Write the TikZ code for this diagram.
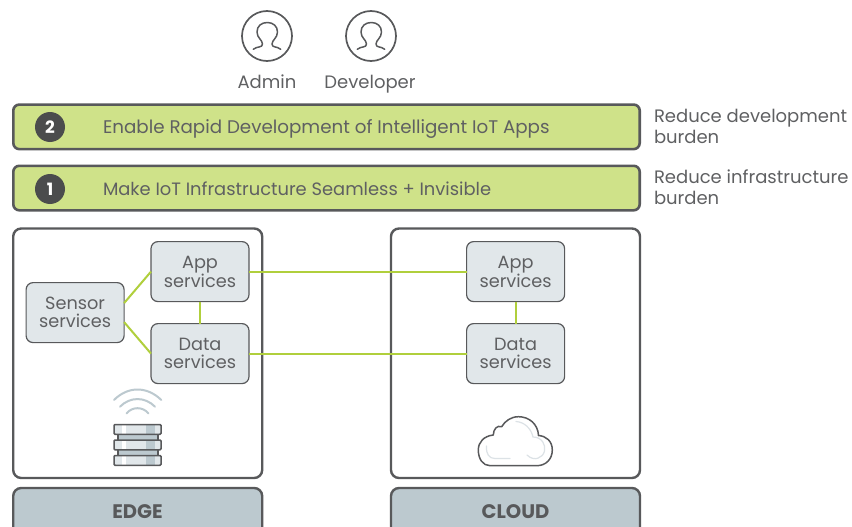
\documentclass[tikz,border=0pt]{standalone}
\usepackage{fontspec}
\setmainfont{Poppins}
\usetikzlibrary{calc}
\definecolor{dk}{HTML}{58595B}
\definecolor{txt}{HTML}{5F6062}
\definecolor{grn}{HTML}{CFE289}
\definecolor{lnk}{HTML}{B0CF3C}
\definecolor{svc}{HTML}{E1E7EA}
\definecolor{lab}{HTML}{BCC9CF}
\tikzset{
 every node/.style={outer sep=0pt},
 bar/.style={draw=dk,line width=2.6pt,fill=grn,rounded corners=6pt,minimum width=626.4pt,minimum height=44.5pt,inner sep=0pt,anchor=north west},
 zone/.style={draw=dk,line width=2.4pt,fill=white,rounded corners=8pt,minimum width=249pt,minimum height=249.5pt,inner sep=0pt,anchor=north west},
 tag/.style={draw=dk,line width=2.4pt,fill=lab,rounded corners=8pt,minimum width=249pt,minimum height=60pt,inner sep=0pt,anchor=north west},
 svcbox/.style={draw=dk,line width=1.2pt,fill=svc,rounded corners=7pt,minimum width=98pt,minimum height=60pt,inner sep=0pt,anchor=north west,text=txt,align=center,font=\fontsize{17.7}{18}\selectfont},
 linkline/.style={draw=lnk,line width=2pt},
 badge/.style={circle,fill=dk!85!black,text=white,minimum size=30pt,inner sep=0pt,font=\fontsize{17}{18}\selectfont\bfseries},
 bartext/.style={text=txt,anchor=base west,inner sep=0pt},
 side/.style={text=txt,anchor=north west,align=left,inner sep=0pt,font=\fontsize{18}{21}\selectfont},
 usertext/.style={text=txt,anchor=base,inner sep=0pt,font=\fontsize{18}{20}\selectfont},
 taglabel/.style={text=dk,anchor=base,inner sep=0pt,font=\fontsize{19.6}{20}\selectfont\bfseries},
 usercircle/.style={circle,draw=dk,line width=1.7pt,minimum size=50pt,inner sep=0pt},
 icon/.style={draw=dk,line width=1.5pt,line cap=round,line join=round},
 wifi/.style={draw=lab,line width=2pt,line cap=round},
}
\begin{document}
\begin{tikzpicture}[x=1pt,y=-1pt]
\useasboundingbox (0,0) rectangle (852,527);
\clip (0,0) rectangle (852,527);
% users
\node[usercircle] (admin) at (267,36) {};
\node[usercircle] (dev) at (371,36) {};
\node[usertext] (adminl) at (267,88.6) {Admin};
\node[usertext] (devl) at (370,88.6) {Developer};
\foreach \dx in {0,104}{
 \draw[icon,shift={(\dx,0)}] (253.3,49.3) .. controls (257,46) and (262.5,48) .. (262.5,44)
  .. controls (262.5,40) and (257,38) .. (257,32)
  .. controls (257,26) and (261.5,22.5) .. (267.3,22.5)
  .. controls (273,22.5) and (277.5,26) .. (277.5,32)
  .. controls (277.5,38) and (272,40) .. (272,44)
  .. controls (272,48) and (277,46) .. (280.7,49.3);
}
% bars
\node[bar] (b2) at (13.3,104.6) {};
\node[bar] (b1) at (13.3,165.8) {};
\node[badge] (n2) at (50,127) {2};
\node[badge] (n1) at (50,189) {1};
\node[bartext,font=\fontsize{18.28}{20}\selectfont] (t2) at (103,133) {Enable Rapid Development of Intelligent IoT Apps};
\node[bartext,font=\fontsize{17.88}{20}\selectfont] (t1) at (103,195) {Make IoT Infrastructure Seamless + Invisible};
\node[side] (s2) at (654,109) {Reduce development\\burden};
\node[side] (s1) at (654,170) {Reduce infrastructure\\burden};
% zones
\node[zone] (edge) at (13.2,228.5) {};
\node[zone] (cloud) at (391,228.5) {};
\node[tag] (edget) at (13.2,488) {};
\node[tag] (cloudt) at (391,488) {};
\node[taglabel] (edgel) at (137.5,518) {EDGE};
\node[taglabel] (cloudl) at (515.5,518) {CLOUD};
% services
\node[svcbox] (sensor) at (26.1,282.6) {Sensor\\services};
\node[svcbox] (app) at (151,241.6) {App\\services};
\node[svcbox] (data) at (151,323.6) {Data\\services};
\node[svcbox] (capp) at (466.6,241.6) {App\\services};
\node[svcbox] (cdata) at (466.6,323.6) {Data\\services};
\draw[linkline] ([yshift=9.5pt]sensor.east) -- (app.west);
\draw[linkline] ([yshift=-9.5pt]sensor.east) -- (data.west);
\draw[linkline] (app.south) -- (data.north);
\draw[linkline] (capp.south) -- (cdata.north);
\draw[linkline] (app.east) -- (capp.west);
\draw[linkline] (data.east) -- (cdata.west);
% wifi icon
\draw[wifi] (114,400) .. controls (128,386) and (147,386) .. (161.3,400);
\draw[wifi] (120,406.7) .. controls (130,396.5) and (145,396.5) .. (155,406.7);
\draw[wifi] (126.7,413.3) .. controls (132,406.5) and (143,406.5) .. (148.3,413.3);
% server icon
\fill[lab] (118,434) rectangle (158,440) (118,449.7) rectangle (158,455.3);
\draw[dk,line width=1.2pt] (118,434) -- (118,440) (158,434) -- (158,440) (118,449.7) -- (118,455.3) (158,449.7) -- (158,455.3);
\foreach \yy in {424.5,440,455.5}{
 \fill[svc] (114,\yy) rectangle (161,\yy+9.8);
 \fill[white] (122.3,\yy) rectangle (126,\yy+9.8);
 \fill[lab] (146,\yy) rectangle (155,\yy+9.8);
 \draw[dk,line width=1.5pt,rounded corners=1pt] (114,\yy) rectangle (161,\yy+9.8);
}
% cloud icon
\draw[dk,line width=1.5pt,line join=round,fill=white] (490,465.7) -- (536.7,465.7)
 .. controls (546,465.7) and (552.3,459) .. (552.3,450)
 .. controls (552.3,441) and (546,436) .. (538.5,435.5)
 .. controls (538,424) and (529,416.7) .. (518.5,416.7)
 .. controls (511,416.7) and (505,421) .. (501.7,426.7)
 .. controls (497,425) and (493.5,429) .. (493.3,435)
 .. controls (484,436) and (478.3,442) .. (478.3,450)
 .. controls (478.3,459) and (483,465.7) .. (490,465.7) -- cycle;
\draw[svc!85!lab,line width=1.2pt,line cap=round] (486.5,446) .. controls (486,454) and (489,458.5) .. (495,458.5) -- (510,458.5);
\draw[svc!85!lab,line width=1.2pt,line cap=round] (516,421.5) .. controls (524,422) and (531,428) .. (533,437)
 .. controls (542,437) and (546,445) .. (544.5,451) .. controls (543,458) and (534,462) .. (527,455);
\end{tikzpicture}
\end{document}
